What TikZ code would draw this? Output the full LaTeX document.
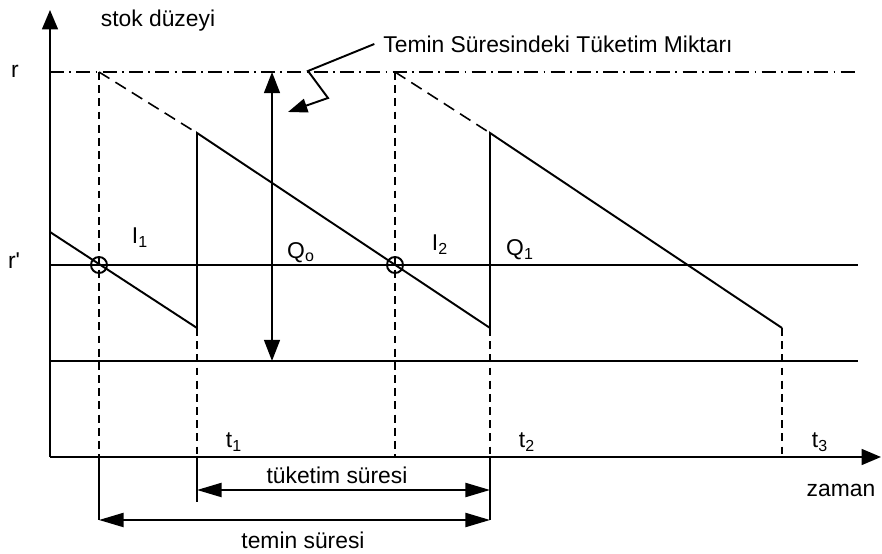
\documentclass[tikz,border=0pt]{standalone}
\usepackage{fontspec}
\setmainfont{Liberation Sans}
\usetikzlibrary{arrows.meta,positioning,calc}
\tikzset{
  axisln/.style={-{Triangle[length=11pt,width=9pt]}, line width=1.1pt},
  sawln/.style={line width=1.1pt, line join=miter},
  projln/.style={dash pattern=on 4.5pt off 3pt, line width=0.9pt},
  slopeln/.style={dash pattern=on 7pt off 4pt, line width=0.9pt},
  dashdotln/.style={dash pattern=on 8pt off 3pt on 1pt off 3pt, line width=0.9pt},
  span/.style={{Triangle[length=14pt,width=8pt]}-{Triangle[length=14pt,width=8pt]}, line width=1.1pt},
  guide/.style={-{Triangle[length=11pt,width=8pt]}, line width=1.1pt},
  lbl/.style={font=\fontsize{13}{15}\selectfont, inner sep=1pt},
}
\newcommand{\ringpt}[1]{\draw[line width=1.1pt] #1 circle (8);}

\begin{document}
\begin{tikzpicture}[x=0.02cm, y=0.02cm]
    \useasboundingbox (0,0) rectangle (882,554);
    \coordinate (O) at (50,97);
    \coordinate (ytop) at (50,544);
    \coordinate (xend) at (881,97);
    \draw[axisln] (O) -- (ytop);
    \draw[axisln] (O) -- (xend);
    % levels r, r' and safety level
    \draw[dashdotln] (50,482) -- (858,482);
    \draw[line width=1.1pt] (50,289) -- (858,289);
    \draw[line width=1.1pt] (50,193) -- (858,193);
    % stock curve
    \draw[sawln] (50,322) -- (197,226) -- (197,421) -- (490,226)
      -- (490,421) -- (782,226);
    \draw[slopeln] (99,482) -- (197,421);
    \draw[slopeln] (395,482) -- (490,421);
    % projections
    \draw[projln] (99,482) -- (99,97);
    \draw[projln] (197,226) -- (197,97);
    \draw[projln] (395,482) -- (395,97);
    \draw[projln] (490,226) -- (490,97);
    \draw[projln] (782,226) -- (782,97);
    \draw[line width=1.1pt] (99,97) -- (99,34);
    \draw[line width=1.1pt] (197,97) -- (197,52);
    \draw[line width=1.1pt] (490,97) -- (490,34);
    \ringpt{(99,289)}
    \ringpt{(395,289)}
    % Q0 span and the two periods
    \draw[span, {Triangle[length=12pt,width=9pt]}-{Triangle[length=12pt,width=9pt]}]
      (272,193) -- (272,482);
    \draw[span] (197,64) -- (490,64);
    \draw[span] (99,34) -- (490,34);
    % labels
    \node[lbl] (stok) at (158,533) {stok düzeyi};
    \node[lbl] (miktar) at (558,510) {Temin Süresindeki Tüketim Miktarı};
    \draw[guide] ([xshift=-4pt]miktar.west) -- (308,483) -- (328,456) -- (288,442);
    \node[lbl] (rlvl) at (15,483) {r};
    \node[lbl] (rplvl) at (14,293) {r\textquotesingle};
    \node[lbl] (inv1) at (140,316) {I\textsubscript{1}};
    \node[lbl] (q0) at (301,301) {Q\textsubscript{o}};
    \node[lbl] (inv2) at (440,309) {I\textsubscript{2}};
    \node[lbl] (q1) at (520,304) {Q\textsubscript{1}};
    \node[lbl] (t1) at (234,112) {t\textsubscript{1}};
    \node[lbl] (t2) at (527,112) {t\textsubscript{2}};
    \node[lbl] (t3) at (820,112) {t\textsubscript{3}};
    \node[lbl] (tuk) at (337,79) {tüketim süresi};
    \node[lbl] (tem) at (303,14) {temin süresi};
    \node[lbl] (zaman) at (841,64) {zaman};
  \end{tikzpicture}
\end{document}
